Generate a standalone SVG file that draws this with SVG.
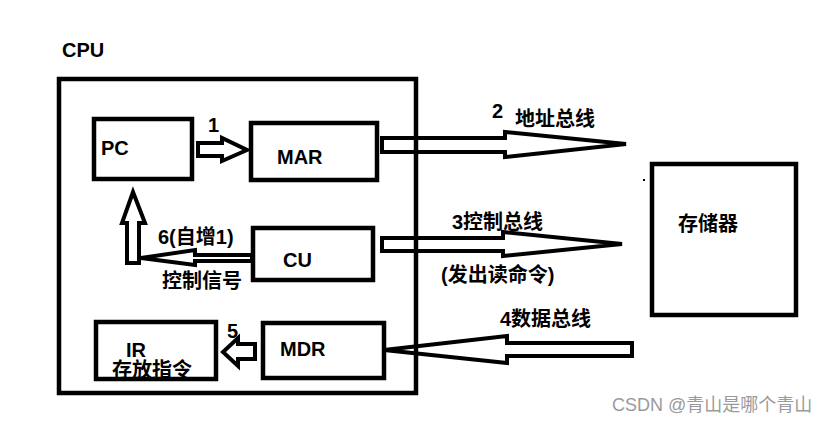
<svg xmlns="http://www.w3.org/2000/svg" width="838" height="425" viewBox="0 0 838 425">
<style>
.box{fill:none;stroke:#000;stroke-width:4.5}
.arr{fill:none;stroke:#000;stroke-width:4;stroke-linejoin:miter}
.t{font-family:"Liberation Sans","Noto Sans CJK SC",sans-serif;font-weight:bold;font-size:20px;fill:#000}
.c{font-family:"Noto Sans CJK SC",sans-serif;font-weight:bold;font-size:20px;fill:#000}
.wm{font-family:"Liberation Sans","Noto Sans CJK SC",sans-serif;font-size:18px;fill:#9a9a9a}
</style>
<rect width="838" height="425" fill="#fff"/>
<g id="cpu">
<rect class="box" x="59" y="79" width="357" height="314"/>
<text class="t" x="62" y="57">CPU</text>
</g>
<g id="pc">
<rect class="box" x="94" y="119" width="98" height="60"/>
<text class="t" x="101" y="155">PC</text>
</g>
<g id="mar">
<rect class="box" x="251" y="123" width="126" height="57"/>
<text class="t" x="277" y="164">MAR</text>
</g>
<g id="cu">
<rect class="box" x="253" y="228" width="120" height="52"/>
<text class="t" x="283" y="267">CU</text>
</g>
<g id="ir">
<text class="c" x="112" y="377">存放指令</text>
<rect class="box" x="96" y="322" width="120" height="57"/>
<text class="t" x="126" y="357">IR</text>
</g>
<g id="mdr">
<rect class="box" x="263" y="323" width="121" height="55"/>
<text class="t" x="280" y="356">MDR</text>
</g>
<g id="memory">
<rect class="box" x="652" y="164" width="144" height="151"/>
<text class="c" x="678" y="231">存储器</text>
</g>
<g id="connectors">
<polygon class="arr" points="198,143 222,143 222,138 247,150 222,161 222,156 198,156"/>
<text class="t" x="208" y="132">1</text>
<polygon class="arr" points="382,138 505,138 505,132 626,144 505,157 505,152 382,152"/>
<text class="t" x="492" y="118">2</text>
<text class="c" x="515" y="126">地址总线</text>
<polygon class="arr" points="382,238 503,238 503,232 622,244 503,256 503,251 382,251"/>
<text class="t" x="452" y="229">3控制总线</text>
<text class="t" x="441" y="282">(发出读命令)</text>
<polygon class="arr" points="384,350 507,336 507,343 632,343 632,356 507,356 507,363"/>
<text class="t" x="500" y="326">4数据总线</text>
<polygon class="arr" points="252,255 195,255 195,250 141,258 195,265 195,261 252,261"/>
<polygon class="arr" points="127,263 139,263 139,223 145,223 133,192 122,223 127,223"/>
<text class="t" x="158" y="244">6(自增1)</text>
<text class="c" x="162" y="288">控制信号</text>
<polygon class="arr" points="255,344 238,344 238,338 223,352 238,366 238,359 255,359"/>
<text class="t" x="227" y="338">5</text>
</g>
<rect x="643" y="179" width="2" height="2" fill="#000"/>
<text class="wm" x="612" y="411">CSDN @青山是哪个青山</text>
</svg>
